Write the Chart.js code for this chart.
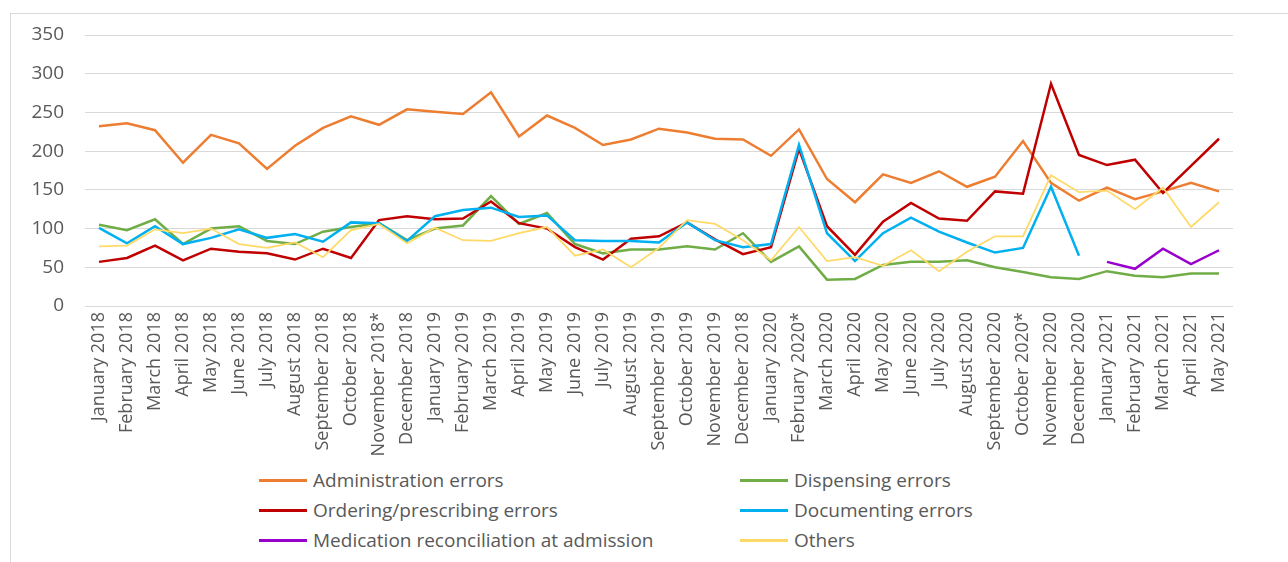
<!DOCTYPE html>
<html>
<head>
<meta charset="utf-8">
<script src="https://cdn.jsdelivr.net/npm/chart.js@4.4.1/dist/chart.umd.min.js"></script>
<style>
  html, body { margin: 0; padding: 0; background: #fff; overflow: hidden; }
  body { width: 1288px; height: 562px; position: relative; font-family: "Open Sans", sans-serif; }
  #frame { position: absolute; left: 10px; top: 13px; width: 1300px; height: 600px; border: 1px solid #d9d9d9; box-sizing: border-box; }
  #chart { position: absolute; left: 0; top: 0; }
  #legend { position: absolute; left: 259px; top: 465px; display: grid; grid-template-columns: 481px auto; grid-auto-rows: 30px; }
  .item { display: flex; align-items: center; font-size: 19px; color: #595959; white-space: nowrap; }
  .item span.line { display: inline-block; width: 48px; height: 3px; margin-right: 6px; }
</style>
</head>
<body>
<div id="frame"></div>
<canvas id="chart" width="1288" height="460"></canvas>
<div id="legend"></div>
<script>
const months = ["January 2018", "February 2018", "March 2018", "April 2018", "May 2018", "June 2018",
  "July 2018", "August 2018", "September 2018", "October 2018", "November 2018*", "December 2018",
  "January 2019", "February 2019", "March 2019", "April 2019", "May 2019", "June 2019",
  "July 2019", "August 2019", "September 2019", "October 2019", "November 2019", "December 2018",
  "January 2020", "February 2020*", "March 2020", "April 2020", "May 2020", "June 2020",
  "July 2020", "August 2020", "September 2020", "October 2020*", "November 2020", "December 2020",
  "January 2021", "February 2021", "March 2021", "April 2021", "May 2021"];

const administration = [232, 236, 227, 185, 221, 210, 177, 207, 230, 245, 234, 254,
  251, 248, 276, 219, 246, 230, 208, 215, 229, 224, 216, 215,
  194, 228, 164, 134, 170, 159, 174, 154, 167, 213, 159, 136,
  153, 138, 148, 159, 148];
const dispensing = [105, 98, 112, 80, 100, 103, 84, 80, 96, 102, 107, 85,
  100, 104, 142, 106, 120, 80, 68, 73, 73, 77, 73, 94,
  57, 77, 34, 35, 53, 57, 57, 59, 50, 44, 37, 35,
  45, 39, 37, 42, 42];
const ordering = [57, 62, 78, 59, 74, 70, 68, 60, 74, 62, 111, 116,
  112, 113, 135, 107, 100, 76, 60, 87, 90, 108, 86, 67,
  76, 203, 103, 66, 109, 133, 113, 110, 148, 145, 287, 195,
  182, 189, 146, 181, 216];
const documenting = [101, 81, 103, 80, 88, 99, 88, 93, 83, 108, 107, 84,
  116, 124, 127, 115, 117, 85, 84, 84, 82, 108, 85, 76,
  80, 208, 94, 58, 94, 114, 96, 82, 69, 75, 154, 65,
  null, null, null, null, null];
const medRec = [null, null, null, null, null, null, null, null, null, null, null, null,
  null, null, null, null, null, null, null, null, null, null, null, null,
  null, null, null, null, null, null, null, null, null, null, null, null,
  57, 48, 74, 54, 72];
const others = [77, 78, 99, 94, 100, 80, 75, 82, 63, 98, 106, 81,
  101, 85, 84, 94, 102, 65, 73, 50, 75, 111, 106, 85,
  59, 102, 58, 63, 52, 72, 45, 70, 90, 90, 169, 147,
  149, 125, 153, 102, 134];

function series(label, data, color, width, order) {
  return {
    label: label,
    data: data,
    borderColor: color,
    backgroundColor: color,
    borderWidth: width,
    pointRadius: 0,
    pointHoverRadius: 0,
    tension: 0,
    spanGaps: false,
    fill: false,
    order: order
  };
}

const chart = new Chart(document.getElementById("chart"), {
  type: "line",
  data: {
    labels: months,
    datasets: [
      series("Administration errors", administration, "#ED7D31", 2.5, 6),
      series("Dispensing errors", dispensing, "#70AD47", 2.5, 5),
      series("Ordering/prescribing errors", ordering, "#C00000", 2.5, 4),
      series("Documenting errors", documenting, "#00B0F0", 2.5, 3),
      series("Medication reconciliation at admission", medRec, "#9900CC", 2.5, 2),
      series("Others", others, "#FFD966", 1.75, 1)
    ]
  },
  options: {
    responsive: false,
    animation: false,
    devicePixelRatio: 1,
    layout: { padding: { left: 0, top: 35, right: 55, bottom: 0 } },
    plugins: {
      legend: { display: false },
      tooltip: { enabled: false }
    },
    scales: {
      x: {
        offset: true,
        grid: { display: false, drawTicks: false },
        border: { display: false },
        ticks: {
          autoSkip: false,
          minRotation: 90,
          maxRotation: 90,
          padding: 6,
          color: "#595959",
          font: { family: "Open Sans", size: 18 }
        },
        afterFit: function (scale) { scale.height = 154; }
      },
      y: {
        min: 0,
        max: 350,
        grid: { color: "#d9d9d9", lineWidth: 1, drawTicks: false },
        border: { display: false },
        ticks: {
          stepSize: 50,
          padding: 21,
          color: "#595959",
          font: { family: "Open Sans", size: 19 }
        },
        afterFit: function (scale) { scale.width = 85; }
      }
    }
  }
});

// legend in two columns, like the original
const legendBox = document.getElementById("legend");
chart.data.datasets.forEach(function (ds) {
  const item = document.createElement("div");
  item.className = "item";
  const line = document.createElement("span");
  line.className = "line";
  line.style.background = ds.borderColor;
  item.appendChild(line);
  item.appendChild(document.createTextNode(ds.label));
  legendBox.appendChild(item);
});
</script>
</body>
</html>
